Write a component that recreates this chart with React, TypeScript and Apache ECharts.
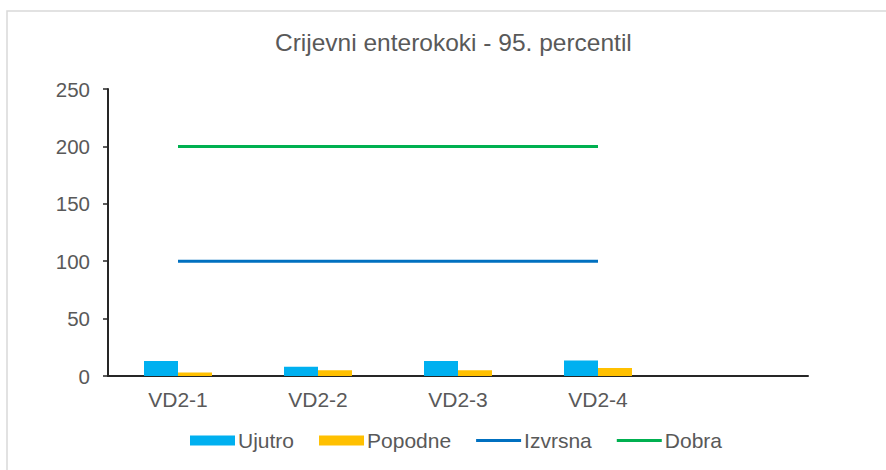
import React, { useEffect, useRef } from "react";
import * as echarts from "echarts";

const categories = ["VD2-1", "VD2-2", "VD2-3", "VD2-4", ""];
const ujutro = [13, 8, 13, 13.5, null];
const popodne = [3, 5, 5, 7, null];
const izvrsna = [100, 100, 100, 100, null];
const dobra = [200, 200, 200, 200, null];
const yTicks = { min: 0, max: 250, interval: 50 };
const titleText = "Crijevni enterokoki - 95. percentil";

const FONT = "'Liberation Sans', Arial, sans-serif";
const TXT = "#595959";
const LINE_ICON = "path://M0,0 L15,0 L15,1 L0,1 Z";

export default function App() {
  const ref = useRef<HTMLDivElement>(null);
  useEffect(() => {
    if (!ref.current) return;
    const chart = echarts.init(ref.current, null, { renderer: "svg" });
    chart.setOption({
      animation: false,
      backgroundColor: "#ffffff",
      textStyle: { fontFamily: FONT },
      title: {
        text: titleText,
        left: 270,
        top: 25,
        textStyle: { fontFamily: FONT, fontSize: 24.5, fontWeight: "normal", color: TXT },
      },
      graphic: [
        {
          type: "rect",
          shape: { x: 7, y: 11, width: 900, height: 500 },
          style: { fill: "none", stroke: "#d9d9d9", lineWidth: 1.5 },
          z: -10,
        },
      ],
      legend: {
        bottom: 14,
        left: 185,
        itemWidth: 45,
        itemHeight: 10,
        itemGap: 25,
        symbolKeepAspect: true,
        textStyle: { fontFamily: FONT, fontSize: 21, color: TXT, padding: [0, 0, 0, -2] },
        data: [
          { name: "Ujutro", icon: "rect" },
          { name: "Popodne", icon: "rect" },
          { name: "Izvrsna", icon: LINE_ICON },
          { name: "Dobra", icon: LINE_ICON },
        ],
      },
      grid: { left: 108, right: 78, top: 89, bottom: 94, containLabel: false },
      xAxis: {
        type: "category",
        data: categories,
        boundaryGap: true,
        axisLine: { lineStyle: { color: "#262626", width: 2 } },
        axisTick: { show: false },
        axisLabel: { color: TXT, fontSize: 21, fontFamily: FONT, margin: 13 },
      },
      yAxis: {
        type: "value",
        min: yTicks.min,
        max: yTicks.max,
        interval: yTicks.interval,
        splitLine: { show: false },
        axisLine: { show: true, lineStyle: { color: "#262626", width: 2 } },
        axisTick: { show: true, length: 5, lineStyle: { color: "#262626", width: 1.5 } },
        axisLabel: { color: TXT, fontSize: 20.5, fontFamily: FONT, margin: 18 },
      },
      series: [
        {
          name: "Ujutro",
          type: "bar",
          data: ujutro,
          barWidth: 34,
          barGap: "0%",
          itemStyle: { color: "#00B0F0" },
        },
        {
          name: "Popodne",
          type: "bar",
          data: popodne,
          barWidth: 34,
          barGap: "0%",
          itemStyle: { color: "#FFC000" },
        },
        {
          name: "Izvrsna",
          type: "line",
          data: izvrsna,
          symbol: "none",
          lineStyle: { color: "#0070C0", width: 3 },
          itemStyle: { color: "#0070C0" },
        },
        {
          name: "Dobra",
          type: "line",
          data: dobra,
          symbol: "none",
          lineStyle: { color: "#00B050", width: 3 },
          itemStyle: { color: "#00B050" },
        },
      ],
    });
    return () => chart.dispose();
  }, []);
  return (
    <div
      ref={ref}
      style={{ position: "fixed", left: 0, top: 0, width: 886, height: 470 }}
    />
  );
}
